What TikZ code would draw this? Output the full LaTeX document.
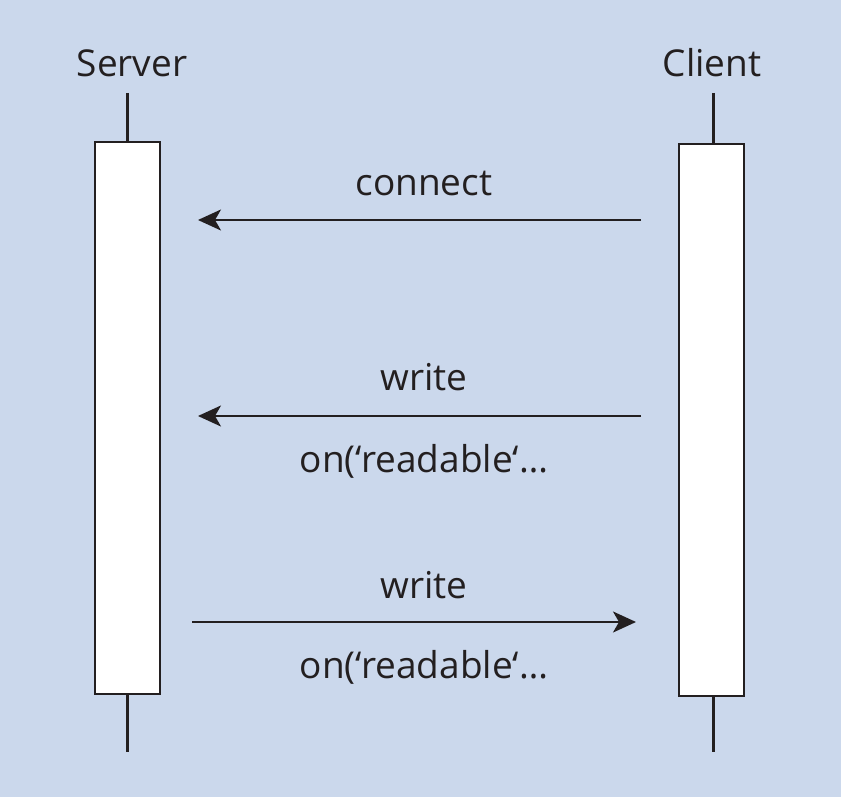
\documentclass[tikz,border=0pt]{standalone}
\usepackage{fontspec}
\setmainfont{Open Sans}
\usetikzlibrary{arrows.meta}
\definecolor{bg}{HTML}{CBD8EC}
\definecolor{ink}{HTML}{231F20}
\begin{document}
\begin{tikzpicture}[x=1pt,y=-1pt,
  lifebox/.style={draw=ink,line width=2pt,fill=white},
  lifeline/.style={draw=ink,line width=3pt},
  msg/.style={draw=ink,line width=2pt,-{Stealth[length=23pt,width=21pt,inset=6pt]}},
  lbl/.style={text=ink,font=\fontsize{37}{42}\selectfont,inner sep=0pt,anchor=base},
  ]
\fill[bg] (0,0) rectangle (841,797);
\useasboundingbox (0,0) rectangle (841,797);
% lifelines
\draw[lifeline] (127.5,93) -- (127.5,752);
\draw[lifeline] (713,93) -- (713,752);
\node[lifebox,minimum width=65pt,minimum height=551pt,inner sep=0pt] (srv) at (127.5,418) {};
\node[lifebox,minimum width=65pt,minimum height=551pt,inner sep=0pt] (cli) at (711,420) {};
\node[lbl] (srvl) at (132,77) {Server};
\node[lbl] (clil) at (712,77) {Client};
% message endpoints
\coordinate (c1) at (641,220);
\coordinate (s1) at (198,220);
\coordinate (c2) at (641,416);
\coordinate (s2) at (198,416);
\coordinate (s3) at (192,622);
\coordinate (c3) at (636,622);
\draw[msg] (c1) -- (s1);
\draw[msg] (c2) -- (s2);
\draw[msg] (s3) -- (c3);
\node[lbl] (m1) at (424,195) {connect};
\node[lbl] (m2) at (424,390) {write};
\node[lbl] (m2b) at (424,472) {on(‘readable‘…};
\node[lbl] (m3) at (424,598) {write};
\node[lbl] (m3b) at (424,678) {on(‘readable‘…};
\end{tikzpicture}
\end{document}
